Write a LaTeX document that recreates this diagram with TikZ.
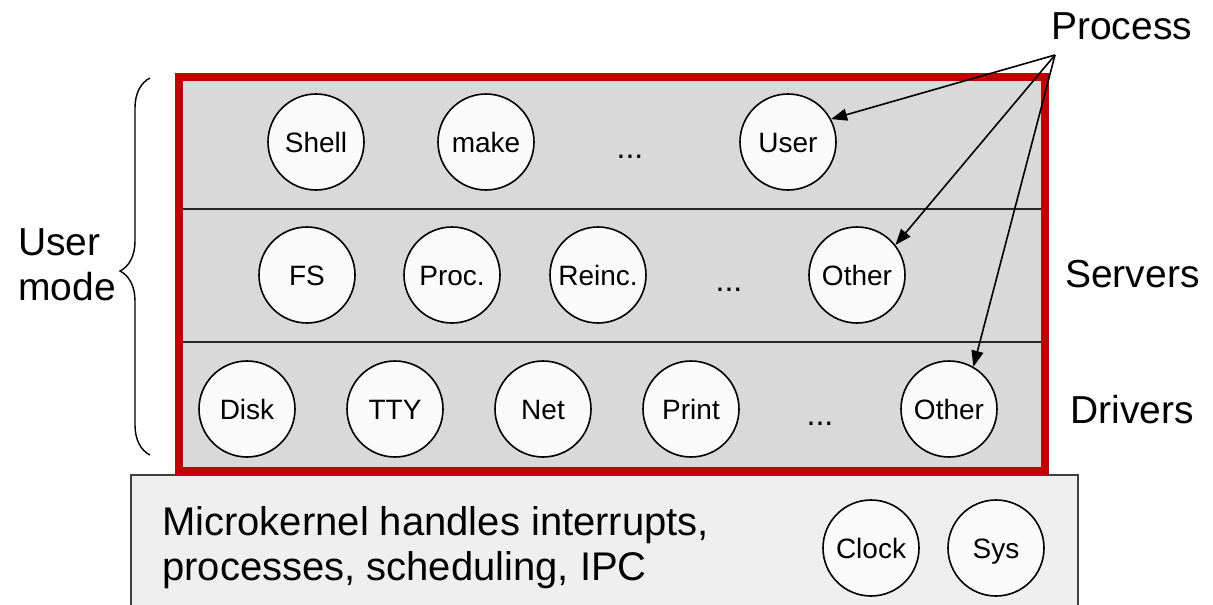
\documentclass[tikz,border=0pt]{standalone}
\usepackage{fontspec}
\setmainfont{Liberation Sans}
\usetikzlibrary{arrows.meta,decorations.pathreplacing}
\definecolor{boxred}{RGB}{192,0,0}
\definecolor{laygray}{RGB}{217,217,217}
\definecolor{kergray}{RGB}{239,239,239}
\definecolor{circfill}{RGB}{251,251,251}
\begin{document}
\begin{tikzpicture}[x=1pt,y=-1pt,
  proc/.style={circle,draw=black,line width=1.6pt,fill=circfill,minimum size=96pt,inner sep=0pt,text height=20pt,text depth=0pt,font=\fontsize{28}{30}\selectfont},
  biglabel/.style={font=\fontsize{39}{44}\selectfont,inner sep=0pt},
  kerntext/.style={font=\fontsize{40}{44}\selectfont,inner sep=0pt},
  dots/.style={font=\fontsize{32}{36}\selectfont,inner sep=0pt,anchor=base},
  arr/.style={line width=1.6pt,-{Triangle[length=16pt,width=12pt]}}]
\useasboundingbox (0,0) rectangle (1213,605);
\clip (0,0) rectangle (1213,605);
% microkernel box
\draw[fill=kergray,draw=black!75,line width=1.4pt] (131,475) rectangle (1078,640);
% user mode box
\fill[laygray] (179,77) rectangle (1045,471);
\draw[black!85,line width=1.5pt] (179,209) -- (1045,209);
\draw[black!85,line width=1.5pt] (179,342) -- (1045,342);
\draw[boxred,line width=7.5pt] (179,77) rectangle (1045,471);
% row 1
\node[proc] (shell) at (316,142) {Shell};
\node[proc] (make) at (486,142) {make};
\node[dots] (d1) at (630,158) {...};
\node[proc] (user) at (788,142) {User};
% row 2
\node[proc] (fs) at (307,275) {FS};
\node[proc] (procs) at (452,275) {Proc.};
\node[proc] (reinc) at (598,275) {Reinc.};
\node[dots] (d2) at (729,291) {...};
\node[proc] (sother) at (857,275) {Other};
% row 3
\node[proc] (disk) at (247,409) {Disk};
\node[proc] (tty) at (395,409) {TTY};
\node[proc] (net) at (543,409) {Net};
\node[proc] (print) at (691,409) {Print};
\node[dots] (d3) at (820,425) {...};
\node[proc] (dother) at (949,409) {Other};
% kernel
\node[proc] (clock) at (871,548) {Clock};
\node[proc] (sys) at (996,548) {Sys};
\node[kerntext,anchor=base west] (k1) at (162,535) {Microkernel handles interrupts,};
\node[kerntext,anchor=base west] (k2) at (162,580) {processes, scheduling, IPC};
% labels
\node[biglabel,anchor=base west] (plabel) at (1051,39) {Process};
\node[biglabel,anchor=base west] (slabel) at (1065,287) {Servers};
\node[biglabel,anchor=base west] (dlabel) at (1070,423) {Drivers};
\node[biglabel,anchor=base west] (u1) at (18,255) {User};
\node[biglabel,anchor=base west] (u2) at (18,300) {mode};
% arrows
\coordinate (P) at (1055,55);
\draw[arr] (P) -- (user.28);
\draw[arr] (P) -- (sother.38);
\draw[arr] (P) -- (dother.60);
% brace
\coordinate (bt) at (150,78);
\coordinate (bb) at (150,455);
\draw[line width=1.4pt,decorate,decoration={brace,amplitude=30pt,aspect=0.488}] (bb) -- (bt);
\end{tikzpicture}
\end{document}
